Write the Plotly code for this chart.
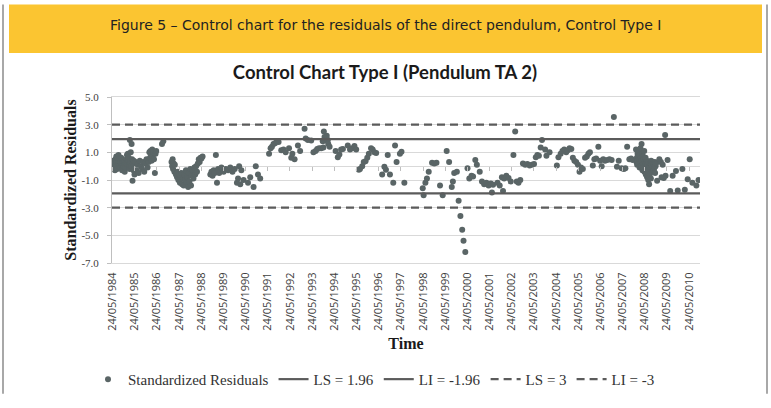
import plotly.graph_objects as go
from datetime import datetime

# ---------------- data (decimal year of observation, standardized residual) ----------------
obs_year = [
    1984.40, 1984.42, 1984.44, 1984.46, 1984.48, 1984.50, 1984.52, 1984.54, 1984.56, 1984.58,
    1984.60, 1984.62, 1984.64, 1984.66, 1984.68, 1984.70, 1984.72, 1984.74, 1984.76, 1984.78,
    1984.80, 1984.82, 1984.84, 1984.86, 1984.88, 1984.90, 1984.92, 1984.94, 1984.96, 1984.98,
    1985.00, 1985.02, 1985.04, 1985.06, 1985.08, 1985.10, 1985.12, 1985.14, 1985.16, 1985.17,
    1985.19, 1985.21, 1985.23, 1985.25, 1985.27, 1985.29, 1985.31, 1985.33, 1985.35, 1985.38,
    1985.42, 1985.47, 1985.52, 1985.57, 1985.62, 1985.67, 1985.72, 1985.77, 1985.82, 1985.87,
    1985.92, 1985.97, 1986.02, 1986.05, 1986.08, 1986.10, 1986.13, 1986.15, 1986.18, 1986.20,
    1986.23, 1986.26, 1986.30, 1986.33, 1986.36, 1986.62, 1986.68, 1987.05, 1987.08, 1987.10,
    1987.12, 1987.15, 1987.18, 1987.20, 1987.25, 1987.30, 1987.33, 1987.36, 1987.40, 1987.43,
    1987.46, 1987.50, 1987.53, 1987.56, 1987.60, 1987.63, 1987.66, 1987.70, 1987.73, 1987.76,
    1987.80, 1987.83, 1987.86, 1987.90, 1987.93, 1987.96, 1988.00, 1988.04, 1988.08, 1988.12,
    1988.16, 1988.20, 1988.24, 1988.28, 1988.32, 1988.36, 1988.40, 1988.45, 1988.80, 1988.85,
    1988.90, 1988.95, 1989.00, 1989.05, 1989.10, 1989.15, 1989.20, 1989.25, 1989.30, 1989.40,
    1989.50, 1989.60, 1989.70, 1989.80, 1989.90, 1990.00, 1990.05, 1990.10, 1990.15, 1990.20,
    1990.30, 1990.50, 1990.60, 1990.75, 1990.85, 1990.95, 1991.05, 1991.45, 1991.52, 1991.58,
    1991.65, 1991.72, 1991.80, 1991.88, 1992.00, 1992.10, 1992.20, 1992.35, 1992.45, 1992.50,
    1992.60, 1992.75, 1992.85, 1993.05, 1993.10, 1993.20, 1993.35, 1993.45, 1993.55, 1993.62,
    1993.70, 1993.80, 1993.87, 1993.90, 1993.92, 1993.95, 1994.00, 1994.05, 1994.10, 1994.12,
    1994.18, 1994.45, 1994.55, 1994.62, 1994.70, 1994.78, 1995.00, 1995.10, 1995.20, 1995.30,
    1995.38, 1995.50, 1995.55, 1995.65, 1995.72, 1995.80, 1995.88, 1995.95, 1996.05, 1996.12,
    1996.20, 1996.28, 1996.55, 1996.65, 1996.72, 1996.80, 1996.90, 1997.05, 1997.13, 1997.20,
    1997.35, 1997.42, 1997.55, 1998.38, 1998.42, 1998.50, 1998.57, 1998.65, 1998.80, 1998.90,
    1999.00, 1999.16, 1999.28, 1999.46, 1999.57, 1999.69, 1999.74, 1999.80, 1999.92, 2000.00,
    2000.08, 2000.16, 2000.22, 2000.30, 2000.40, 2000.48, 2000.58, 2000.65, 2000.75, 2000.82,
    2000.95, 2001.05, 2001.15, 2001.25, 2001.35, 2001.45, 2001.50, 2001.55, 2001.75, 2001.85,
    2001.95, 2002.00, 2002.05, 2002.15, 2002.25, 2002.35, 2002.47, 2002.55, 2002.62, 2002.70,
    2002.78, 2002.90, 2003.00, 2003.10, 2003.20, 2003.30, 2003.40, 2003.48, 2003.55, 2003.62,
    2003.70, 2003.76, 2003.90, 2003.96, 2004.10, 2004.43, 2004.50, 2004.60, 2004.68, 2004.76,
    2004.85, 2004.92, 2005.00, 2005.08, 2005.15, 2005.22, 2005.30, 2005.38, 2005.45, 2005.52,
    2005.60, 2005.70, 2005.78, 2005.85, 2005.92, 2006.05, 2006.12, 2006.20, 2006.30, 2006.38,
    2006.45, 2006.52, 2006.60, 2006.70, 2006.80, 2006.90, 2007.00, 2007.14, 2007.22, 2007.35,
    2007.45, 2007.52, 2007.60, 2007.70, 2007.78, 2007.85, 2008.00, 2008.02, 2008.04, 2008.05,
    2008.07, 2008.08, 2008.10, 2008.11, 2008.13, 2008.14, 2008.16, 2008.17, 2008.19, 2008.20,
    2008.22, 2008.23, 2008.25, 2008.26, 2008.28, 2008.29, 2008.31, 2008.32, 2008.34, 2008.35,
    2008.37, 2008.38, 2008.40, 2008.41, 2008.43, 2008.44, 2008.46, 2008.47, 2008.49, 2008.50,
    2008.52, 2008.53, 2008.55, 2008.56, 2008.58, 2008.59, 2008.61, 2008.62, 2008.64, 2008.65,
    2008.67, 2008.68, 2008.70, 2008.71, 2008.73, 2008.74, 2008.76, 2008.77, 2008.79, 2008.80,
    2008.82, 2008.83, 2008.85, 2008.86, 2008.88, 2008.90, 2008.95, 2009.05, 2009.12, 2009.20,
    2009.31, 2009.33, 2009.42, 2009.54, 2009.65, 2009.80, 2009.88, 2010.09, 2010.20, 2010.33,
    2010.42, 2010.54, 2010.72, 2010.82, 2009.15, 2009.25,
]
std_residual = [
    0.2, -0.1, 0.4, 0.0, 0.3, -0.3, 0.5, 0.1, 0.7, 0.3,
    -0.2, 0.6, 0.2, 0.8, 0.4, 0.0, 0.5, -0.1, 0.3, 0.6,
    0.1, -0.3, 0.2, 0.4, -0.2, 0.0, 0.3, -0.4, 0.1, -0.1,
    0.2, 0.5, 0.8, 0.3, 0.9, 0.4, 0.6, 0.1, -0.2, 1.9,
    0.3, 1.0, 0.0, 1.6, 0.5, -1.05, 0.2, -0.3, 0.4, -0.6,
    0.3, -0.3, 0.1, -0.5, 0.4, 0.0, -0.2, 0.3, -0.4, 0.2,
    0.5, -0.1, 0.3, 1.0, 0.6, 1.1, 0.8, 0.4, 1.2, 0.7,
    1.0, 0.5, -0.5, 0.9, 1.1, 1.6, 1.8, 0.3, 0.0, 0.5,
    -0.2, 0.2, -0.4, 0.1, -0.6, -0.8, -0.4, -1.0, -0.6, -1.2,
    -0.7, -0.5, -1.3, -0.9, -1.4, -0.6, -1.0, -0.3, -1.2, -0.8,
    -1.5, -0.5, -1.1, -0.2, -1.4, -0.7, -0.3, -0.9, -0.1, -0.6,
    0.0, -0.4, 0.2, 0.5, 0.3, 0.6, 0.55, 0.7, -0.6, -0.4,
    -0.7, -0.3, -0.5, 0.8, -1.2, -0.2, -0.5, -0.3, -0.1, -0.4,
    -0.2, -0.3, -0.1, -0.4, -0.2, -1.2, -0.9, 0.0, -1.3, -0.3,
    -1.0, -1.2, -0.8, -1.5, 0.0, -0.6, -0.9, 0.9, 1.3, 1.4,
    1.6, 1.65, 1.8, 1.75, 1.15, 1.2, 1.0, 1.3, 0.6, 0.9,
    0.5, 1.5, 1.1, 2.7, 2.0, 1.9, 1.85, 1.0, 1.1, 1.25,
    1.3, 1.3, 1.8, 1.35, 2.5, 2.1, 1.85, 2.2, 1.9, 1.6,
    1.4, 1.1, 0.65, 0.85, 1.2, 1.25, 1.5, 1.2, 1.3, 1.45,
    1.2, -0.25, -0.2, 0.0, 0.3, 0.35, 0.6, 0.9, 1.3, 1.2,
    1.0, 0.95, -0.6, -0.05, -0.25, 0.8, -0.6, -1.2, 1.5, 0.3,
    0.9, 1.05, -1.2, -1.6, -2.1, -1.2, -0.9, -0.4, 0.25, 0.2,
    0.25, -1.4, -2.1, 1.1, 0.3, -1.5, -1.1, -0.5, -0.4, -2.5,
    -3.6, -4.6, -5.4, -6.2, -0.15, -0.9, -0.7, -0.75, 0.45, 0.1,
    -0.4, -1.1, -1.3, -1.2, -1.4, -1.25, -1.9, -1.35, -1.2, -1.4,
    -0.8, -1.8, -0.9, -0.7, -0.85, -1.1, 0.8, 2.5, -1.1, -1.2,
    -1.0, 0.2, 0.1, 0.15, 0.05, 0.1, 0.15, 0.65, 0.8, 0.75,
    1.35, 1.9, 1.2, 0.75, 1.0, 0.05, 0.65, 0.9, 1.1, 1.2,
    1.0, 1.15, 1.3, 1.25, 0.6, 0.4, 0.3, 0.1, -0.4, -0.1,
    -0.2, 0.6, 0.7, 0.9, 1.0, 0.05, 0.5, 0.55, 1.4, 0.4,
    0.0, 0.5, 0.4, 0.45, 0.5, 0.45, 3.55, -0.05, 0.4, -0.15,
    -0.2, -0.15, 1.4, 0.5, 0.55, 0.45, 1.2, 0.3, 0.6, 0.1,
    0.9, 0.4, 0.7, 0.2, 1.0, 0.5, -0.1, 0.8, 0.3, 1.3,
    0.6, 0.0, 1.6, 0.4, 0.9, -0.3, 0.2, 0.7, -0.1, 0.5,
    1.1, -0.4, 0.3, 0.0, 0.6, -0.6, 0.2, -0.2, 0.4, -0.8,
    0.1, -0.4, -1.0, 0.3, -0.3, -1.3, 0.0, -0.6, 0.2, -0.2,
    -0.9, 0.4, -0.1, 0.1, -0.4, 0.3, -0.2, 0.0, 0.2, -0.3,
    0.1, -0.1, 0.3, -0.5, 0.0, 0.2, -1.05, 0.5, 0.3, 0.1,
    2.25, -0.7, 0.45, -1.8, -0.7, -0.35, -1.75, -0.2, -1.7, -0.95,
    0.5, -1.2, -1.4, -1.0, -0.8, -0.85,
]
assert len(obs_year) == len(std_residual)

limit_names = ["LS = 1.96", "LI = -1.96", "LS = 3", "LI = -3"]
limit_values = [1.96, -1.96, 3.0, -3.0]
limit_dashes = ["solid", "solid", "8px,5px", "8px,5px"]

tick_years = list(range(1984, 2011))
y_ticks = [5, 3, 1, -1, -3, -5, -7]
x_start = datetime(1984, 5, 14)
x_end = datetime(2010, 11, 20)


def to_date(y):
    yr = int(y)
    a, b = datetime(yr, 1, 1), datetime(yr + 1, 1, 1)
    return a + (b - a) * (y - yr)


dates = [to_date(v) for v in obs_year]
tick_vals = [datetime(y, 5, 24) for y in tick_years]
tick_text = [f"24/05/{y}" for y in tick_years]

# ---------------- geometry ----------------
W, H = 771, 408
L, R, T, B = 112, 71, 97, 137
PW, PH = W - L - R, H - T - B


def px_x(px):
    return (px - L) / PW


def px_y(py):
    return (H - B - py) / PH


GRID = "#D9D9D9"
MARK = "#5A6566"
LIMIT = "#5B5B5B"

fig = go.Figure()
fig.add_trace(go.Scatter(
    x=dates, y=std_residual, mode="markers", name="Standardized Residuals",
    marker=dict(size=6, color=MARK, line=dict(width=0)),
))
for name, val, dash in zip(limit_names, limit_values, limit_dashes):
    fig.add_trace(go.Scatter(
        x=[x_start, x_end], y=[val, val], mode="lines", name=name,
        line=dict(color=LIMIT, width=2.2, dash=dash),
    ))
# helper trace so the zero-crossing tick axis is drawn
fig.add_trace(go.Scatter(x=[], y=[], xaxis="x2", showlegend=False, hoverinfo="skip"))

fig.update_layout(
    width=W, height=H,
    margin=dict(l=L, r=R, t=T, b=B),
    paper_bgcolor="white", plot_bgcolor="white",
    title=dict(
        text="<b>Control Chart Type I (Pendulum TA 2)</b>",
        x=px_x(385), xref="paper", xanchor="center",
        y=1 - 73 / H, yref="container", yanchor="middle",
        font=dict(family="Lato", size=18.5, color="#1a1a1a"),
    ),
    xaxis=dict(
        type="date", range=[x_start, x_end],
        tickmode="array", tickvals=tick_vals, ticktext=tick_text,
        tickangle=-90, ticks="", ticklabelstandoff=4,
        tickfont=dict(family="Open Sans", size=11, color="#404040"),
        showgrid=False, zeroline=False,
        showline=True, mirror=True, linecolor=GRID, linewidth=1,
        title=dict(text="<b>Time</b>", standoff=8,
                   font=dict(family="Liberation Serif", size=16, color="#1a1a1a")),
    ),
    xaxis2=dict(
        type="date", range=[x_start, x_end], overlaying="x",
        anchor="free", position=(0 - (-7)) / 12, side="bottom",
        tickmode="array", tickvals=tick_vals, showticklabels=False,
        ticks="outside", ticklen=4, tickcolor="#BFBFBF",
        showgrid=False, zeroline=False, showline=False,
    ),
    yaxis=dict(
        range=[-7, 5], tickmode="array", tickvals=y_ticks,
        ticktext=[f"{v:.1f}" for v in y_ticks],
        tickfont=dict(family="Liberation Serif", size=11, color="#404040"),
        ticks="outside", ticklen=4, tickcolor="#BFBFBF", ticklabelstandoff=6,
        showgrid=True, gridcolor=GRID, gridwidth=1,
        zeroline=True, zerolinecolor=GRID, zerolinewidth=1,
        showline=True, linecolor="#BFBFBF", linewidth=1,
        title=dict(text="<b>Standardized Residuals</b>", standoff=0,
                   font=dict(family="Liberation Serif", size=16, color="#1a1a1a")),
    ),
    legend=dict(
        orientation="h", x=px_x(374), xanchor="center",
        y=px_y(393), yanchor="middle",
        font=dict(family="Liberation Serif", size=15, color="#333333"),
        bgcolor="rgba(0,0,0,0)", itemwidth=30,
    ),
    showlegend=True,
)

# header band and page frame
fig.add_shape(type="rect", xref="paper", yref="paper",
              x0=px_x(9), x1=px_x(762), y0=px_y(51), y1=px_y(0),
              fillcolor="#FBC531", line=dict(width=0), layer="below")
for bx in (3, 767):
    fig.add_shape(type="line", xref="paper", yref="paper",
                  x0=px_x(bx), x1=px_x(bx), y0=px_y(0), y1=px_y(H),
                  line=dict(color="#A8A8A8", width=2))
fig.add_annotation(
    text="Figure 5 – Control chart for the residuals of the direct pendulum, Control Type I",
    xref="paper", yref="paper", x=px_x(385), y=px_y(22),
    xanchor="center", yanchor="middle", showarrow=False,
    font=dict(family="DejaVu Sans", size=14, color="#222222"),
)

fig.write_html("out.html")
